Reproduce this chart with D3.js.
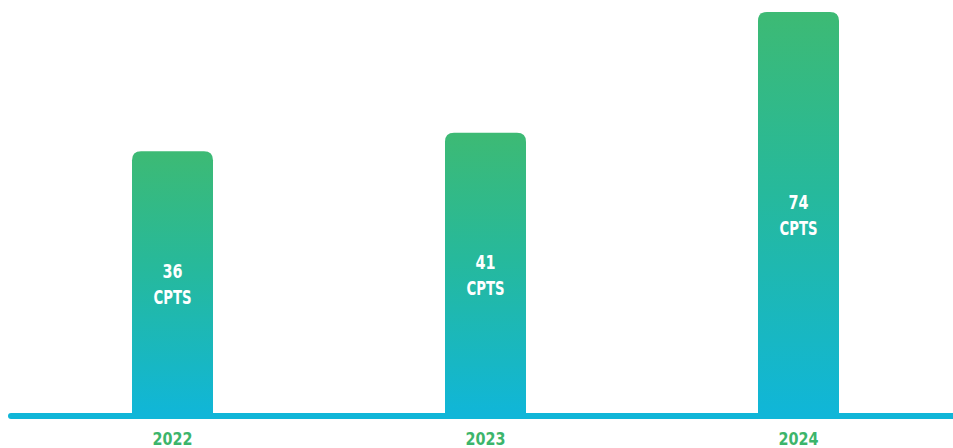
<!DOCTYPE html>
<html>
<head>
<meta charset="utf-8">
<script src="https://cdn.jsdelivr.net/npm/d3@7"></script>
<style>
  body { margin: 0; background: #fff; }
  text { font-stretch: condensed; }
</style>
</head>
<body>
<div id="chart"></div>
<script>
  // data
  const years = ["2022", "2023", "2024"];
  const values = [36, 41, 74];
  const unit = "CPTS";

  const width = 953, height = 448;
  const baseline = 413;
  const barWidth = 81;
  const font = "'DejaVu Sans', sans-serif";

  const svg = d3.select("#chart").append("svg")
    .attr("width", width)
    .attr("height", height);

  // gradient for each bar, top green to bottom cyan
  const grad = svg.append("defs").append("linearGradient")
    .attr("id", "barGrad")
    .attr("x1", 0).attr("y1", 0).attr("x2", 0).attr("y2", 1);
  grad.append("stop").attr("offset", "0%").attr("stop-color", "#3dba74");
  grad.append("stop").attr("offset", "45%").attr("stop-color", "#26b99c");
  grad.append("stop").attr("offset", "100%").attr("stop-color", "#10b6d8");

  const x = d3.scalePoint().domain(years).range([172.5, 798.5]);
  // bars don't start at zero in the original, so domain min is offset
  const y = d3.scaleLinear().domain([-35.5, 74]).range([baseline, 12]);

  const data = years.map((yr, i) => ({ year: yr, value: values[i] }));

  const r = 9;
  const barPath = d => {
    const x0 = x(d.year) - barWidth / 2, x1 = x0 + barWidth;
    const y0 = y(d.value), y1 = baseline + 1;
    return `M${x0},${y1}V${y0 + r}Q${x0},${y0} ${x0 + r},${y0}H${x1 - r}Q${x1},${y0} ${x1},${y0 + r}V${y1}Z`;
  };

  svg.selectAll("path.bar")
    .data(data)
    .join("path")
    .attr("class", "bar")
    .attr("d", barPath)
    .attr("fill", "url(#barGrad)");

  // baseline
  svg.append("line")
    .attr("x1", 11).attr("x2", width + 10)
    .attr("y1", baseline + 3).attr("y2", baseline + 3)
    .attr("stroke", "#10b6d8")
    .attr("stroke-width", 6)
    .attr("stroke-linecap", "round");

  // value labels
  const lbl = svg.selectAll("text.val")
    .data(data)
    .join("text")
    .attr("class", "val")
    .attr("text-anchor", "middle")
    .attr("font-family", font)
    .attr("font-weight", "bold")
    .attr("font-size", 19)
    .attr("fill", "#fff")
    .attr("transform", d => `translate(${x(d.year)},${(y(d.value) + baseline) / 2})`);
  lbl.append("tspan").attr("x", 0).attr("y", -4).attr("textLength", d => String(d.value).length * 10).attr("lengthAdjust", "spacingAndGlyphs").text(d => d.value);
  lbl.append("tspan").attr("x", 0).attr("y", 22).attr("textLength", 38).attr("lengthAdjust", "spacingAndGlyphs").text(unit);

  // year labels
  svg.selectAll("text.year")
    .data(data)
    .join("text")
    .attr("class", "year")
    .attr("x", d => x(d.year))
    .attr("y", 445)
    .attr("text-anchor", "middle")
    .attr("font-family", font)
    .attr("font-weight", "bold")
    .attr("font-size", 18)
    .attr("textLength", 40)
    .attr("lengthAdjust", "spacingAndGlyphs")
    .attr("fill", "#3cb56b")
    .text(d => d.year);
</script>
</body>
</html>
